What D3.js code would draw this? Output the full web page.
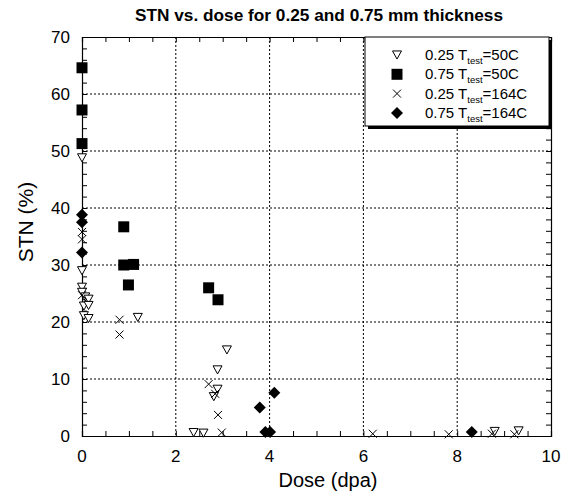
<!DOCTYPE html>
<html>
<head>
<meta charset="utf-8">
<script src="https://cdn.jsdelivr.net/npm/d3@7"></script>
<style>
  body { margin: 0; background: #fff; }
  svg { font-family: "Liberation Sans", Arial, sans-serif; }
</style>
</head>
<body>
<svg id="chart" width="573" height="496"></svg>
<script>
// data: [dose, stn]
const tri25_50 = [
  [0, 48.8], [0, 29.0], [0, 26.1], [0, 25.2], [0.07, 24.4], [0.14, 24.0],
  [0.04, 22.8], [0.14, 22.9], [0.04, 21.1], [0.14, 20.6], [1.19, 20.8],
  [3.09, 15.1], [2.89, 11.6], [2.89, 8.2], [2.81, 6.9],
  [2.38, 0.6], [2.59, 0.5], [8.80, 0.8], [9.31, 0.9]
];
const sq75_50 = [
  [0, 64.6], [0, 57.2], [0, 51.3], [0.89, 36.7], [0.89, 30.0], [1.1, 30.1],
  [0.99, 26.5], [2.70, 26.0], [2.90, 23.9]
];
const x25_164 = [
  [0, 35.8], [0, 34.5], [0, 24.7], [0.8, 20.4], [0.8, 17.8], [2.70, 9.1],
  [2.84, 7.4], [2.90, 3.7], [2.98, 0.6], [6.2, 0.4], [7.82, 0.3], [8.74, 0.4], [9.22, 0.3]
];
const dia75_164 = [
  [0, 38.8], [0, 37.5], [0, 32.2], [3.79, 5.0], [4.10, 7.6], [3.91, 0.7], [4.01, 0.7], [8.31, 0.7]
];
const legendLabels = [["0.25 T", "=50C"], ["0.75 T", "=50C"], ["0.25 T", "=164C"], ["0.75 T", "=164C"]];
const xTicks = [0, 2, 4, 6, 8, 10];
const yTicks = [0, 10, 20, 30, 40, 50, 60, 70];

const pLeft = 82, pRight = 551, pTop = 37, pBottom = 436;
const svg = d3.select("#chart");

const x = d3.scaleLinear().domain([0, 10]).range([pLeft, pRight]);
const y = d3.scaleLinear().domain([0, 70]).range([pBottom, pTop]);

// grid
svg.append("g").selectAll("line").data(xTicks.slice(1, -1)).enter().append("line")
  .attr("x1", d => x(d)).attr("x2", d => x(d)).attr("y1", pTop).attr("y2", pBottom)
  .attr("stroke", "#000").attr("stroke-width", 1).attr("stroke-dasharray", "2,2");
svg.append("g").selectAll("line").data(yTicks.slice(1, -1)).enter().append("line")
  .attr("y1", d => y(d)).attr("y2", d => y(d)).attr("x1", pLeft).attr("x2", pRight)
  .attr("stroke", "#000").attr("stroke-width", 1).attr("stroke-dasharray", "2,2");

// axes, ticks inward on all four sides
const xMinor = d3.range(0, 10.01, 0.5);
const yMinor = d3.range(0, 70.01, 2);
svg.append("g").attr("transform", `translate(0,${pBottom})`)
  .call(d3.axisBottom(x).tickValues(xMinor).tickSize(-5).tickFormat(""));
svg.append("g").attr("transform", `translate(0,${pTop})`)
  .call(d3.axisTop(x).tickValues(xMinor).tickSize(-5).tickFormat(""));
svg.append("g").attr("transform", `translate(${pLeft},0)`)
  .call(d3.axisLeft(y).tickValues(yMinor).tickSize(-5).tickFormat(""));
svg.append("g").attr("transform", `translate(${pRight},0)`)
  .call(d3.axisRight(y).tickValues(yMinor).tickSize(-5).tickFormat(""));
svg.selectAll(".domain").attr("stroke", "#000").attr("stroke-width", 1.2);

// tick labels
svg.append("g").selectAll("text").data(xTicks).enter().append("text")
  .attr("x", d => x(d)).attr("y", pBottom + 26).attr("text-anchor", "middle")
  .attr("font-size", 17).text(d => d);
svg.append("g").selectAll("text").data(yTicks).enter().append("text")
  .attr("x", pLeft - 12).attr("y", d => y(d) + 6).attr("text-anchor", "end")
  .attr("font-size", 17).text(d => d);

// titles
svg.append("text").attr("x", 319).attr("y", 21).attr("text-anchor", "middle")
  .attr("font-size", 16.5).attr("font-weight", "bold")
  .attr("textLength", 368).attr("lengthAdjust", "spacingAndGlyphs")
  .text("STN vs. dose for 0.25 and 0.75 mm thickness");
svg.append("text").attr("x", 328).attr("y", 487).attr("text-anchor", "middle")
  .attr("font-size", 20).text("Dose (dpa)");
svg.append("text").attr("transform", "translate(33,222) rotate(-90)")
  .attr("text-anchor", "middle").attr("font-size", 21).text("STN (%)");

// markers
const triDown = { draw(c, s) { const r = Math.sqrt(s) / 2; c.moveTo(-r, -r * 0.9); c.lineTo(r, -r * 0.9); c.lineTo(0, r * 0.9); c.closePath(); } };
const cross = { draw(c, s) { const r = Math.sqrt(s) / 2; c.moveTo(-r, -r); c.lineTo(r, r); c.moveTo(r, -r); c.lineTo(-r, r); } };
const diamond = { draw(c, s) { const r = Math.sqrt(s) / 2; c.moveTo(0, -r); c.lineTo(r, 0); c.lineTo(0, r); c.lineTo(-r, 0); c.closePath(); } };
const square = { draw(c, s) { const r = Math.sqrt(s) / 2; c.rect(-r, -r, 2 * r, 2 * r); } };

const series = [
  { data: tri25_50, type: triDown, size: 81, fill: "#fff", stroke: "#000" },
  { data: sq75_50, type: square, size: 121, fill: "#000", stroke: "none" },
  { data: x25_164, type: cross, size: 64, fill: "none", stroke: "#000" },
  { data: dia75_164, type: diamond, size: 144, fill: "#000", stroke: "none" }
];

series.forEach(s => {
  svg.append("g").selectAll("path").data(s.data).enter().append("path")
    .attr("transform", d => `translate(${x(d[0])},${y(d[1])})`)
    .attr("d", d3.symbol().type(s.type).size(s.size))
    .attr("fill", s.fill).attr("stroke", s.stroke).attr("stroke-width", 1);
});

// legend with drop shadow
const lg = svg.append("g");
lg.append("rect").attr("x", 368).attr("y", 40).attr("width", 184).attr("height", 89).attr("fill", "#000");
lg.append("rect").attr("x", 365).attr("y", 37).attr("width", 184).attr("height", 89)
  .attr("fill", "#fff").attr("stroke", "#000").attr("stroke-width", 1);
series.forEach((s, i) => {
  const ly = 55 + i * 19.3;
  lg.append("path").attr("transform", `translate(397,${ly})`)
    .attr("d", d3.symbol().type(s.type).size(s.size))
    .attr("fill", s.fill).attr("stroke", s.stroke);
  const t = lg.append("text").attr("x", 425).attr("y", ly + 5).attr("font-size", 15);
  t.append("tspan").text(legendLabels[i][0]);
  t.append("tspan").attr("font-size", 9.5).attr("dy", 4).text("test");
  t.append("tspan").attr("dy", -4).text(legendLabels[i][1]);
});
</script>
</body>
</html>
